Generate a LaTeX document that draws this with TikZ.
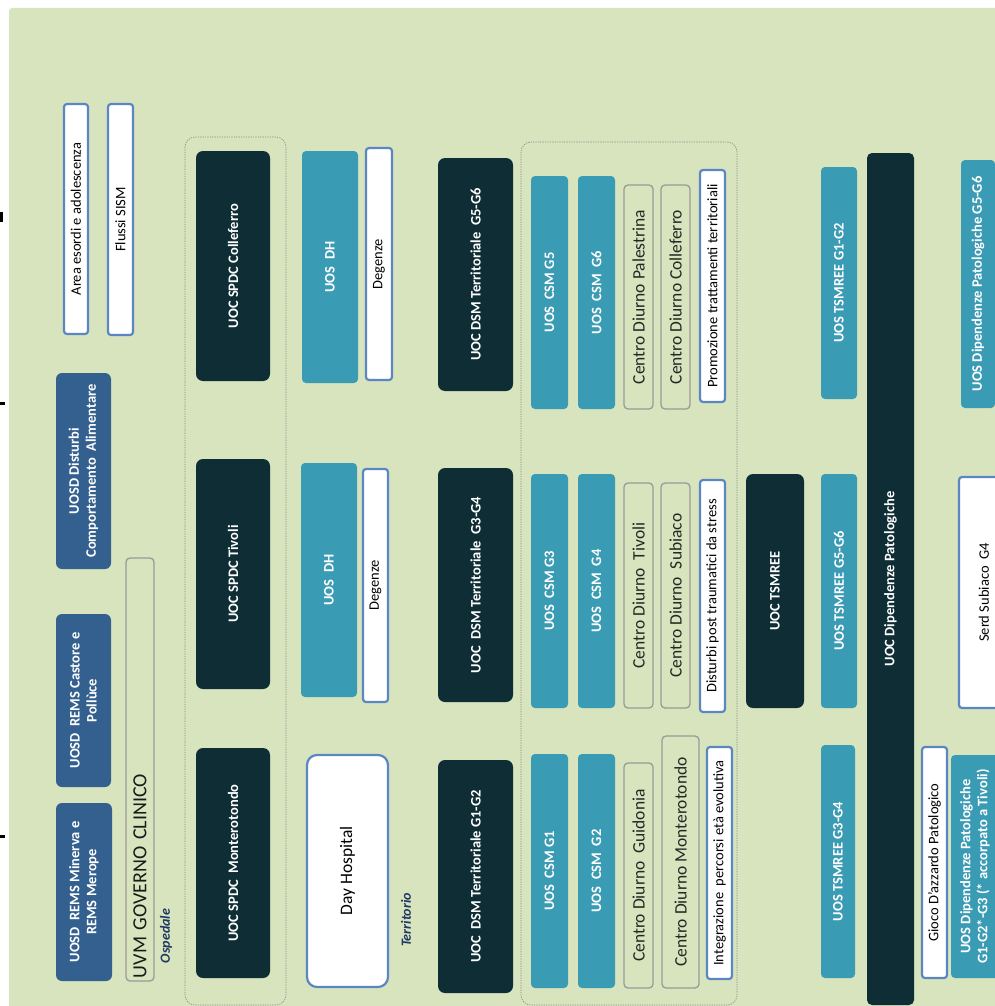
\documentclass[tikz,border=0pt]{standalone}
\usepackage{fontspec}
\setmainfont{Carlito}
\definecolor{panel}{HTML}{D7E4BD}
\definecolor{deep}{HTML}{0E2D35}
\definecolor{csmteal}{HTML}{3A9BB4}
\definecolor{uosdblue}{HTML}{34608F}
\definecolor{noteblue}{HTML}{5A86C4}
\definecolor{cdgray}{HTML}{9A9A9A}
\definecolor{labelblue}{HTML}{1F3864}
\tikzset{
  wh/.style n args={2}{minimum width=#1pt, minimum height=#2pt},
  unit/.style={rotate=90, inner sep=1pt, align=center, text=white,
    font=\bfseries\fontsize{14.5}{17}\selectfont},
  uoc/.style={unit, fill=deep, rounded corners=7pt},
  uos/.style={unit, fill=csmteal, rounded corners=4pt},
  uosd/.style={unit, fill=uosdblue, rounded corners=6pt},
  note/.style={rotate=90, inner sep=1pt, align=center, fill=white, draw=noteblue,
    line width=2.2pt, rounded corners=3pt, font=\fontsize{14.5}{16}\selectfont},
  centro/.style={rotate=90, inner sep=1pt, align=center, draw=cdgray, line width=1.3pt,
    rounded corners=4pt, text=black!85, font=\fontsize{17.5}{19}\selectfont},
  area/.style={draw=black!45, line width=0.7pt, dash pattern=on 1.2pt off 1.2pt, rounded corners=10pt},
  sector/.style={rotate=90, text=labelblue, font=\bfseries\itshape\fontsize{14}{16}\selectfont}
}
\begin{document}
\begin{tikzpicture}[x=1pt, y=-1pt]
\clip (0,0) rectangle (995,1006);
\fill[white] (0,0) rectangle (995,1006);
\fill[panel, rounded corners=3pt] (9,8) rectangle (1010,1020);
% cut marks at the left edge
\fill[black] (0,212) rectangle (3,222);
\fill[black] (0,402) rectangle (5,405);
\fill[black] (0,835) rectangle (5,838);

% Ospedale
\node[uosd, wh={178}{56}] (remsmin) at (84,892) {UOSD\ \ REMS Minerva e\\REMS Merope};
\node[uosd, wh={173}{55}] (remscas) at (83.5,700.5) {UOSD\ \ REMS Castore e\\Pollùce};
\node[uosd, wh={196}{55}] (dca) at (83.5,471) {UOSD Disturbi\\Comportamento\ \ Alimentare};
\node[note, wh={230}{24}] (esordi) at (76,219) {Area esordi e adolescenza};
\node[note, wh={231}{25}] (sism) at (120.5,219.5) {Flussi SISM};
\node[centro, wh={423}{28}, text width=417pt, align=left, inner xsep=3pt,
  text=black!90, font=\fontsize{20}{22}\selectfont] (uvm) at (140,769.5) {UVM GOVERNO CLINICO};
\node[sector] (ospedale) at (166,936) {Ospedale};

\draw[area] (185,137) rectangle (286,1005);
\node[uoc, wh={230}{74}] (spdccol) at (233,266) {UOC SPDC Colleferro};
\node[uoc, wh={230}{74}] (spdctiv) at (233,574) {UOC SPDC Tivoli};
\node[uoc, wh={230}{74}] (spdcmon) at (233,863) {UOC SPDC\ \ Monterotondo};

\node[uos, wh={232}{56}] (dhcol) at (330,267) {UOS\ \ DH};
\node[note, wh={232}{26}] (degcol) at (379,264) {Degenze};
\node[uos, wh={234}{56}] (dhtiv) at (329,580) {UOS\ \ DH};
\node[note, wh={233}{25}] (degtiv) at (375.5,585.5) {Degenze};
\node[note, wh={232}{81}, rounded corners=10pt, font=\fontsize{17.5}{19}\selectfont] (dayhosp) at (347.5,871) {Day Hospital};

% Territorio
\node[sector] (territorio) at (406,920) {Territorio};
\node[uoc, wh={233}{75}] (dsm56) at (475.5,274.5) {UOC DSM Territoriale\ \ G5-G6};
\node[uoc, wh={234}{75}] (dsm34) at (475.5,585) {UOC\ \ DSM Territoriale\ \ G3-G4};
\node[uoc, wh={233}{75}] (dsm12) at (475.5,876.5) {UOC\ \ DSM Territoriale G1-G2};

\draw[area] (521,142) rectangle (737,1005);
\node[uos, wh={233}{37}] (csm5) at (549.5,292.5) {UOS\ \ CSM G5};
\node[uos, wh={233}{37}] (csm6) at (596.5,292.5) {UOS\ \ CSM\ \ G6};
\node[centro, wh={224}{29}] (cdpal) at (638.5,297) {Centro Diurno Palestrina};
\node[centro, wh={224}{29}] (cdcol) at (675.5,297) {Centro Diurno Colleferro};
\node[note, wh={232}{25}] (promo) at (712.5,286) {Promozione trattamenti territoriali};

\node[uos, wh={234}{37}] (csm3) at (549.5,591) {UOS\ \ CSM G3};
\node[uos, wh={234}{37}] (csm4) at (596.5,591) {UOS\ \ CSM\ \ G4};
\node[centro, wh={225}{29}] (cdtiv) at (638.5,595.5) {Centro Diurno\ \ Tivoli};
\node[centro, wh={225}{29}] (cdsub) at (675.5,595.5) {Centro Diurno\ \ Subiaco};
\node[note, wh={232}{25}] (ptsd) at (712.5,596) {Disturbi post traumatici da stress};

\node[uos, wh={234}{37}] (csm1) at (549.5,871) {UOS\ \ CSM G1};
\node[uos, wh={234}{37}] (csm2) at (596.5,871) {UOS\ \ CSM\ \ G2};
\node[centro, wh={225}{29}] (cdgui) at (638.5,875.5) {Centro Diurno\ \ Guidonia};
\node[centro, wh={252}{37}] (cdmon) at (680.5,862) {Centro Diurno Monterotondo};
\node[note, wh={232}{25}] (integ) at (719.5,863) {Integrazione\ \ percorsi età evolutiva};

% TSMREE
\node[uoc, wh={234}{58}] (tsmree) at (775,591) {UOC TSMREE};
\node[uos, wh={232}{36}] (tsm12) at (839,283) {UOS TSMREE G1-G2};
\node[uos, wh={234}{36}] (tsm56) at (839,591) {UOS TSMREE G5-G6};
\node[uos, wh={233}{34}] (tsm34) at (838,861.5) {UOS TSMREE G3-G4};

% Dipendenze
\node[uoc, wh={852}{47}, rounded corners=5pt] (dipend) at (890.5,579) {UOC Dipendenze Patologiche};
\node[uos, wh={248}{34}] (dp56) at (978,284) {UOS Dipendenze Patologiche G5-G6};
\node[note, wh={231}{50}] (serd) at (984,592.5) {Serd Subiaco\ \ G4};
\node[note, wh={231}{25}] (gioco) at (934.5,862.5) {Gioco D’azzardo Patologico};
\node[uos, wh={223}{48}] (dp123) at (975,866.5) {UOS Dipendenze Patologiche\\G1-G2*-G3 (* accorpato a Tivoli)};
\end{tikzpicture}
\end{document}
